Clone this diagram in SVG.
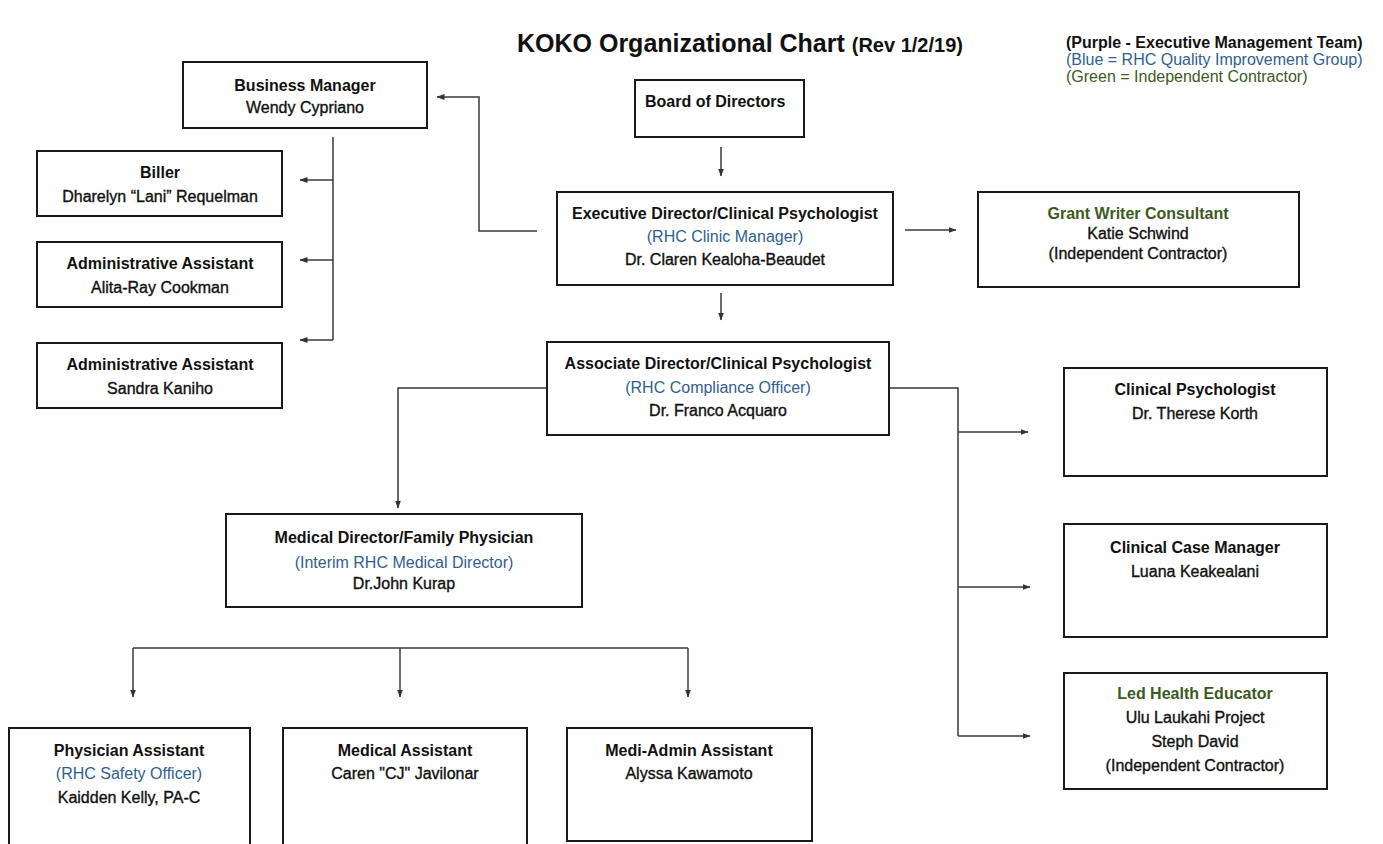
<svg xmlns="http://www.w3.org/2000/svg" width="1383" height="844" viewBox="0 0 1383 844">
<defs>
<marker id="ah" viewBox="0 0 8 6" refX="7.5" refY="3" markerWidth="8" markerHeight="6" markerUnits="userSpaceOnUse" orient="auto">
<path d="M0,0 L8,3 L0,6 z" fill="#333"/>
</marker>
<style>
text{font-family:"Liberation Sans",Arial,Helvetica,sans-serif;font-size:16px;text-anchor:middle;fill:#111}
.t{font-weight:bold}
.n{stroke:#111;stroke-width:0.35}
.b{fill:#2f5f8f}
.g{fill:#3d5a1e;font-weight:bold}
.gr{fill:#3d5a1e}
.box{fill:#fff;stroke:#1a1a1a;stroke-width:2}
.c{fill:none;stroke:#3a3a3a;stroke-width:1.5}
.ca{fill:none;stroke:#3a3a3a;stroke-width:1.5;marker-end:url(#ah)}
</style>
</defs>
<rect width="1383" height="844" fill="#fff"/>

<g id="title">
<text x="517" y="52" style="text-anchor:start;font-size:25px;font-weight:bold">KOKO Organizational Chart <tspan style="font-size:20px">(Rev 1/2/19)</tspan></text>
</g>
<g id="legend">
<text x="1066" y="48" class="t" style="text-anchor:start">(Purple - Executive Management Team)</text>
<text x="1066" y="65" class="b" style="text-anchor:start">(Blue = RHC Quality Improvement Group)</text>
<text x="1066" y="82" class="gr" style="text-anchor:start">(Green = Independent Contractor)</text>
</g>

<g id="connectors">
<path class="ca" d="M721,147 V176"/>
<path class="ca" d="M721,293 V320"/>
<path class="ca" d="M905,230 H956"/>
<path class="ca" d="M537,231 H479 V97 H437"/>
<path class="c" d="M333,137 V340"/>
<path class="ca" d="M333,180 H300"/>
<path class="ca" d="M333,260 H300"/>
<path class="ca" d="M333,340 H300"/>
<path class="c" d="M889,388 H958 V736"/>
<path class="ca" d="M958,432 H1028"/>
<path class="ca" d="M958,587 H1030"/>
<path class="ca" d="M958,736 H1030"/>
<path class="ca" d="M547,388 H398 V508"/>
<path class="c" d="M133,648 H688"/>
<path class="ca" d="M133,648 V697"/>
<path class="ca" d="M400,648 V697"/>
<path class="ca" d="M688,648 V697"/>
</g>

<g id="business-manager">
<rect class="box" x="183" y="62" width="244" height="66"/>
<text class="t" x="305" y="91">Business Manager</text>
<text class="n" x="305" y="113">Wendy Cypriano</text>
</g>
<g id="board">
<rect class="box" x="635" y="80" width="169" height="57"/>
<text class="t" x="645" y="107" style="text-anchor:start">Board of Directors</text>
</g>
<g id="executive-director">
<rect class="box" x="557" y="192" width="336" height="93"/>
<text class="t" x="725" y="219">Executive Director/Clinical Psychologist</text>
<text class="b" x="725" y="242">(RHC Clinic Manager)</text>
<text class="n" x="725" y="265">Dr. Claren Kealoha-Beaudet</text>
</g>
<g id="grant-writer">
<rect class="box" x="978" y="192" width="321" height="95"/>
<text class="g" x="1138" y="219">Grant Writer Consultant</text>
<text class="n" x="1138" y="239">Katie Schwind</text>
<text class="n" x="1138" y="259">(Independent Contractor)</text>
</g>
<g id="biller">
<rect class="box" x="37" y="151" width="245" height="65"/>
<text class="t" x="160" y="178">Biller</text>
<text class="n" x="160" y="202">Dharelyn “Lani” Requelman</text>
</g>
<g id="admin-assistant-1">
<rect class="box" x="37" y="242" width="245" height="65"/>
<text class="t" x="160" y="269">Administrative Assistant</text>
<text class="n" x="160" y="293">Alita-Ray Cookman</text>
</g>
<g id="admin-assistant-2">
<rect class="box" x="37" y="343" width="245" height="65"/>
<text class="t" x="160" y="370">Administrative Assistant</text>
<text class="n" x="160" y="394">Sandra Kaniho</text>
</g>
<g id="associate-director">
<rect class="box" x="547" y="342" width="342" height="93"/>
<text class="t" x="718" y="369">Associate Director/Clinical Psychologist</text>
<text class="b" x="718" y="393">(RHC Compliance Officer)</text>
<text class="n" x="718" y="416">Dr. Franco Acquaro</text>
</g>
<g id="clinical-psychologist">
<rect class="box" x="1064" y="368" width="263" height="108"/>
<text class="t" x="1195" y="395">Clinical Psychologist</text>
<text class="n" x="1195" y="419">Dr. Therese Korth</text>
</g>
<g id="case-manager">
<rect class="box" x="1064" y="524" width="263" height="113"/>
<text class="t" x="1195" y="553">Clinical Case Manager</text>
<text class="n" x="1195" y="577">Luana Keakealani</text>
</g>
<g id="health-educator">
<rect class="box" x="1064" y="673" width="263" height="116"/>
<text class="g" x="1195" y="699">Led Health Educator</text>
<text class="n" x="1195" y="723">Ulu Laukahi Project</text>
<text class="n" x="1195" y="747">Steph David</text>
<text class="n" x="1195" y="771">(Independent Contractor)</text>
</g>
<g id="medical-director">
<rect class="box" x="226" y="514" width="356" height="93"/>
<text class="t" x="404" y="543">Medical Director/Family Physician</text>
<text class="b" x="404" y="568">(Interim RHC Medical Director)</text>
<text class="n" x="404" y="589">Dr.John Kurap</text>
</g>
<g id="physician-assistant">
<rect class="box" x="9" y="728" width="241" height="130"/>
<text class="t" x="129" y="756">Physician Assistant</text>
<text class="b" x="129" y="779">(RHC Safety Officer)</text>
<text class="n" x="129" y="803">Kaidden Kelly, PA-C</text>
</g>
<g id="medical-assistant">
<rect class="box" x="283" y="728" width="244" height="130"/>
<text class="t" x="405" y="756">Medical Assistant</text>
<text class="n" x="405" y="779">Caren "CJ" Javilonar</text>
</g>
<g id="medi-admin-assistant">
<rect class="box" x="567" y="728" width="245" height="113"/>
<text class="t" x="689" y="756">Medi-Admin Assistant</text>
<text class="n" x="689" y="779">Alyssa Kawamoto</text>
</g>
</svg>
